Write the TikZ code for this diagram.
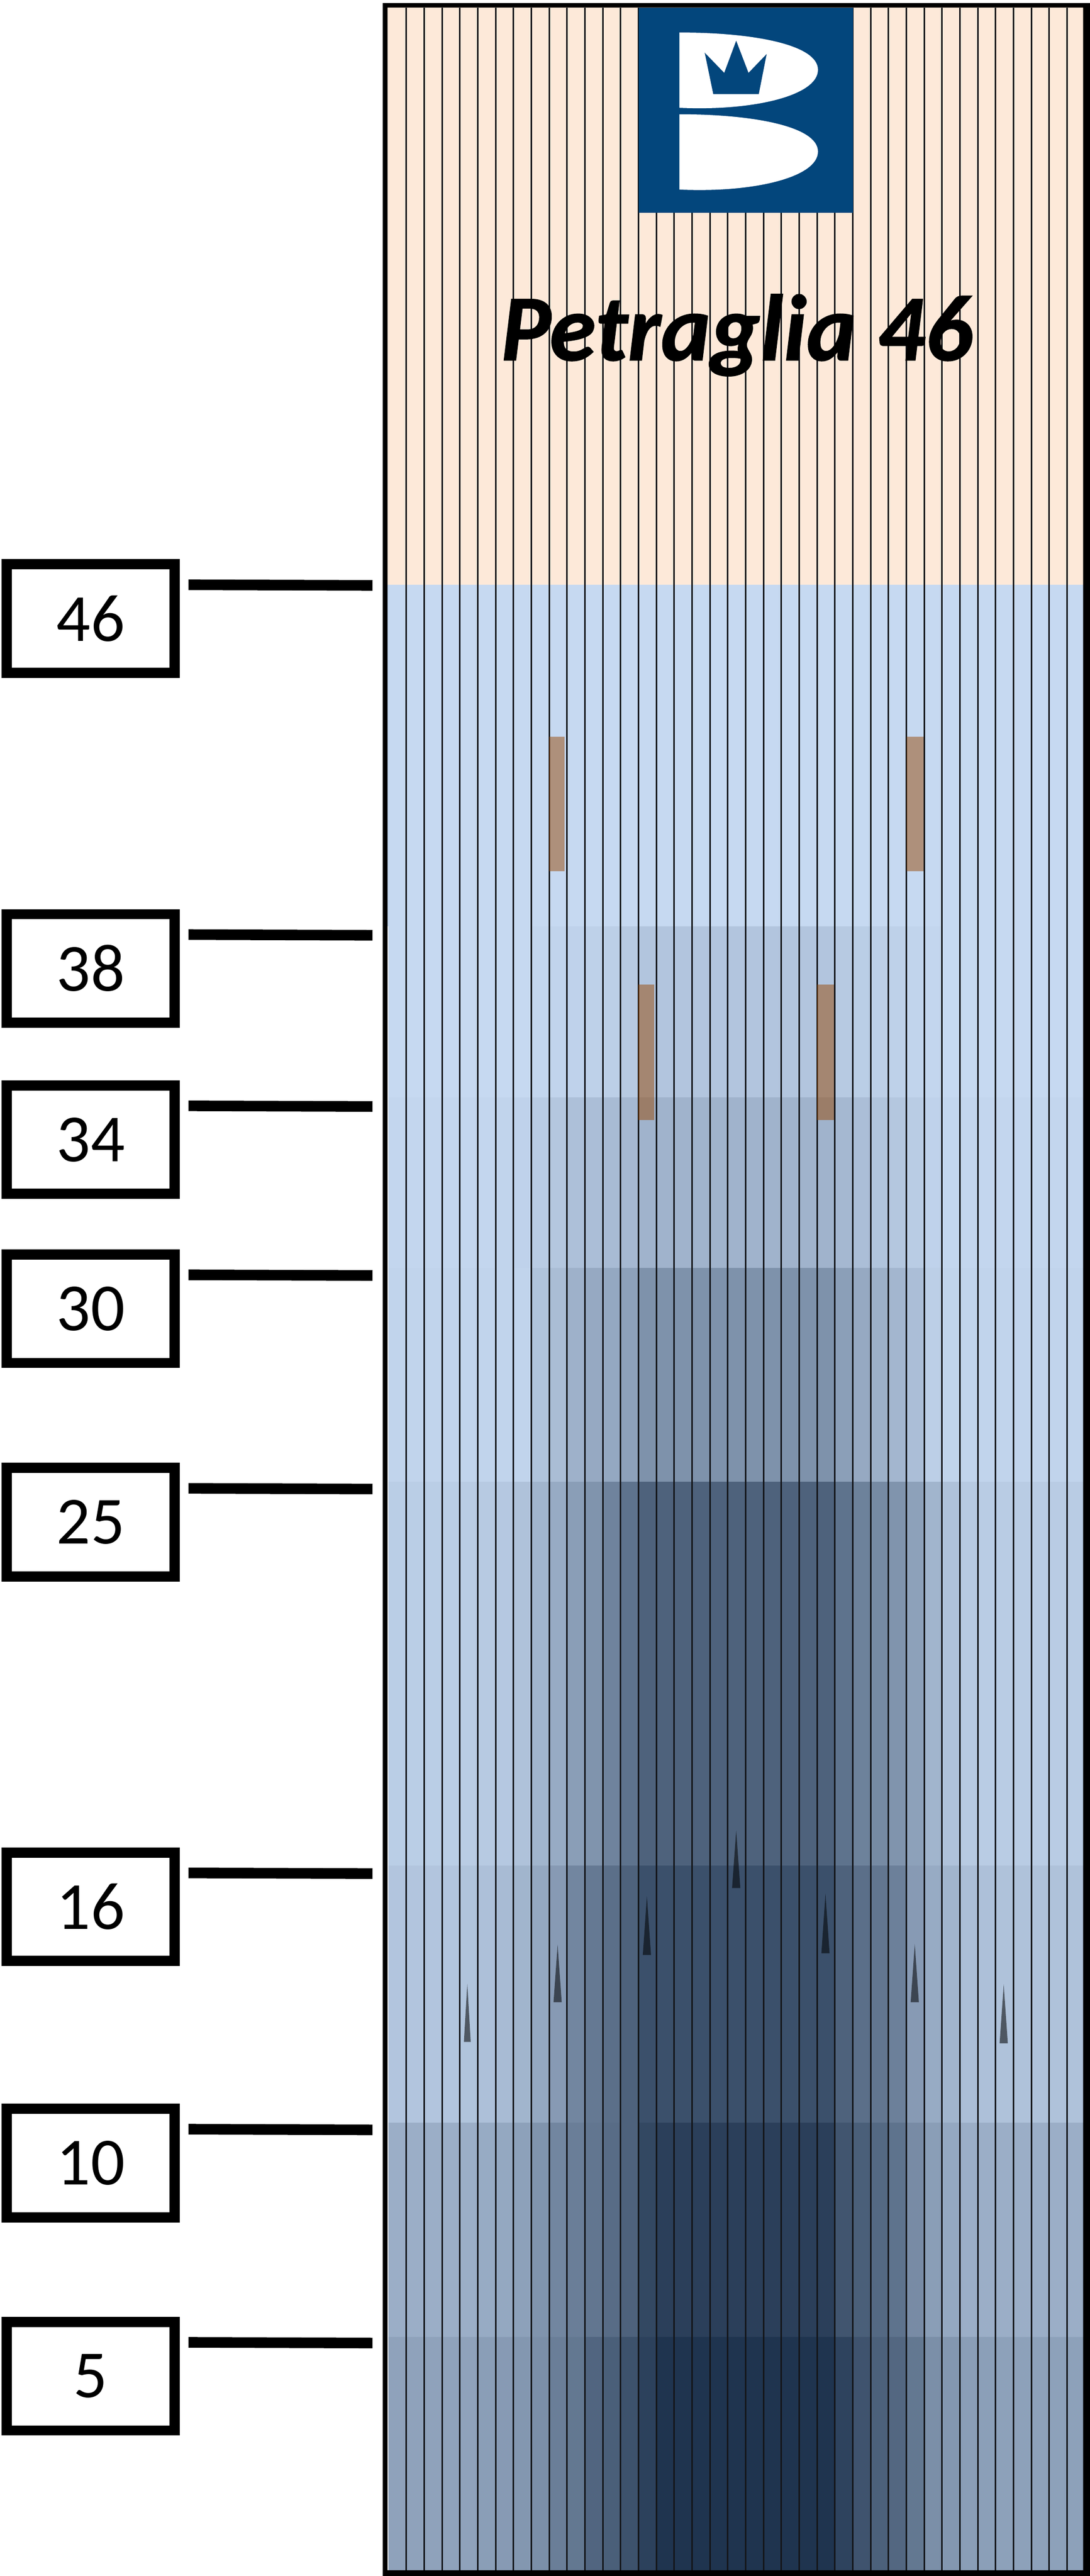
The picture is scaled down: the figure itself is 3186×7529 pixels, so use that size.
\documentclass[tikz,border=0pt]{standalone}
\usepackage{fontspec}
\setmainfont{Carlito}
\newfontfamily\titlefont[BoldItalicFeatures={FakeBold=1}]{Carlito}
\definecolor{peach}{HTML}{FDE9D9}
\definecolor{palewater}{HTML}{C6D9F1}
\definecolor{deepwater}{HTML}{1F344F}
\definecolor{logoblue}{HTML}{03467C}
\definecolor{clay}{HTML}{974806}
\definecolor{slat}{HTML}{14161A}
\tikzset{level box/.style={rectangle,draw,fill=white,line width=30pt,minimum width=492pt,minimum height=317pt,inner sep=0pt,font=\fontsize{197}{197}\selectfont},
level tick/.style={line width=31pt},
spike/.style={fill=black,opacity=.55},
plate/.style={fill=clay,opacity=.5},
}
% one row of 39 slats, shaded by the percentages in #3
\newcommand{\slatband}[3]{
	\foreach \p [count=\k from 0] in {#3}
		\fill[deepwater!\p!palewater] (1135.8+52.2*\k,#1) rectangle (1189+52.2*\k,#2);
}
\newcommand{\spikeat}[4]{\fill[spike] (#1-#4,#3) -- (#1,#2) -- (#1+#4,#3) -- cycle;}

\begin{document}
\begin{tikzpicture}[x=1pt,y=-1pt]
	\useasboundingbox (0,0) rectangle (3186,7529);
	
	\fill[peach] (1126,15) rectangle (3172,1709);
	\fill[palewater] (1126,1709) rectangle (3172,2708);
	\slatband{2708}{3207}{0,0,0,0,0,0,0,0,2,3,4,5,6,9,12,12,12,12,12,12,12,12,12,12,12,9,7,6,5,3,2,0,0,0,0,0,0,0,0}
	\slatband{3207}{3706}{2,2,2,2,2,2,3,4,8,11,15,16,18,20,23,23,23,23,23,23,23,23,23,23,23,20,16,13,11,8,4,2,2,2,2,2,2,2,2}
	\slatband{3706}{4331}{3,3,3,3,3,3,3,3,13,17,24,29,30,34,43,43,43,43,43,43,43,43,43,43,43,35,29,25,21,16,6,3,3,3,3,3,3,3,3}
	\slatband{4331}{5453}{7,7,7,7,8,9,10,14,22,28,36,42,52,62,72,72,72,72,72,72,72,72,72,72,72,62,53,48,42,34,22,14,9,8,8,8,8,8,8}
	\slatband{5453}{6204}{12,12,12,12,13,15,18,22,30,38,50,58,64,72,83,83,83,83,83,83,83,83,83,83,83,72,64,60,54,38,28,22,16,15,14,14,14,14,14}
	\slatband{6204}{6830}{26,26,26,26,26,28,30,34,42,50,55,60,66,72,88,93,93,93,93,93,93,93,93,93,93,80,74,68,62,47,36,30,26,26,26,26,26,26,26}
	\slatband{6830}{7520}{33,33,33,33,33,36,38,40,45,55,59,70,74,82,92,100,100,100,100,100,100,100,100,100,100,91,81,73,69,59,45,40,36,35,34,34,34,34,34}
	
	\foreach \i in {0,...,37}
		\draw[slat,line width=4.5pt] (1188+52.2*\i,22) -- (1188+52.2*\i,7515);
	
	% logo
	\fill[logoblue] (1867,22) rectangle (2493,622);
	\foreach \dy in {0,239}
		\fill[white] (1986,95+\dy) .. controls (2200,95+\dy) and (2391,130+\dy) .. (2391,204+\dy) .. controls (2391,280+\dy) and (2200,325+\dy) .. (1986,315+\dy) -- cycle;
	\fill[logoblue] (2060,154) -- (2117,213) -- (2152,119) -- (2188,213) -- (2241,158) -- (2218,275) -- (2085,275) -- cycle;
	
	\node[anchor=base,inner sep=0pt] (title) at (2154,1053) {\fontsize{275}{275}\selectfont\titlefont\bfseries\itshape Petraglia 46};
	
	\fill[plate] (1605,2153) rectangle (1651,2547);
	\fill[plate] (2650,2153) rectangle (2700,2547);
	\fill[plate] (1866,2878) rectangle (1913,3274);
	\fill[plate] (2388,2878) rectangle (2438,3274);
	
	\spikeat{2152}{5350}{5518}{12}
	\spikeat{1891}{5542}{5714}{12}
	\spikeat{2413}{5535}{5709}{12}
	\spikeat{1630}{5684}{5852}{12}
	\spikeat{2674}{5682}{5852}{12}
	\spikeat{1366}{5798}{5968}{10}
	\spikeat{2934}{5800}{5972}{12}
	
	\fill[even odd rule] (1119,9) rectangle (3186,7529) (1133,22) rectangle (3166,7512);
	
	\foreach \lev/\yy in {46/1709,38/2731.5,34/3232,30/3726,25/4350,16/5474,10/6223,5/6846}{
		\node[level box] (box\lev) at (265,\yy+99) {\lev};
		\coordinate (tickl\lev) at (551,\yy);
		\coordinate (tickr\lev) at (1089,\yy+2);
		\draw[level tick] (tickl\lev) -- (tickr\lev);
	}
\end{tikzpicture}
\end{document}
